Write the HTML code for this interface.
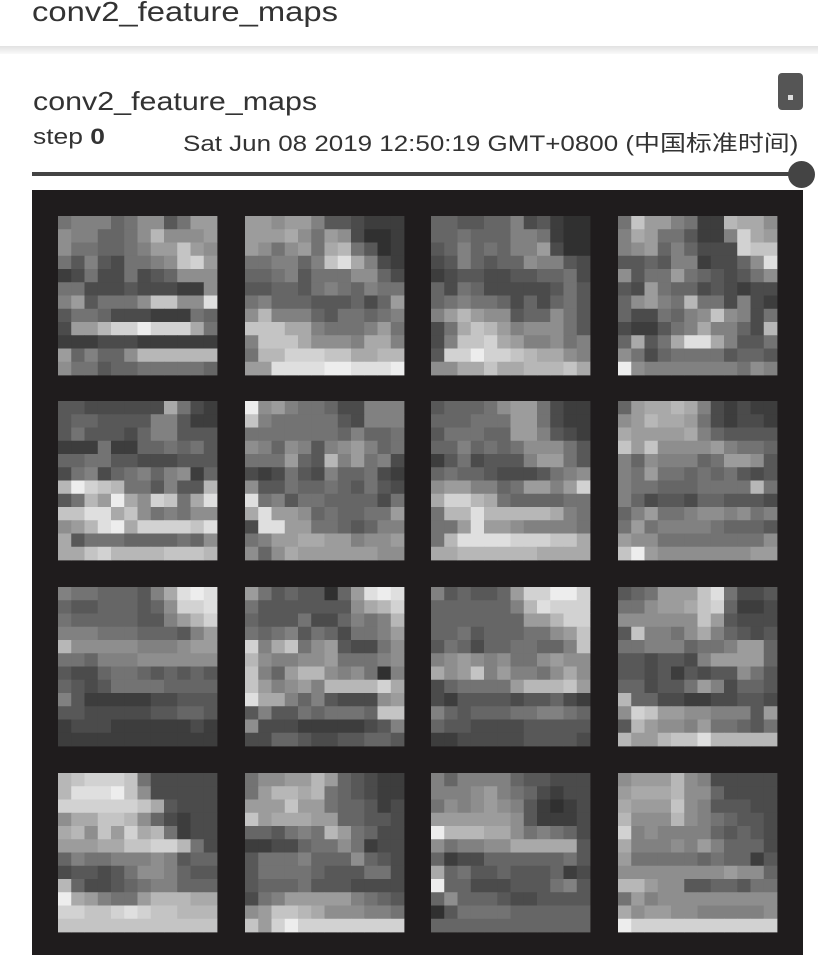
<!DOCTYPE html>
<html><head><meta charset="utf-8">
<style>
body{margin:0;width:818px;height:955px;overflow:hidden;background:#fff;font-family:"Liberation Sans","Noto Sans CJK SC",sans-serif;position:relative}
.abs{position:absolute;white-space:nowrap}
.sx{transform-origin:0 0}
</style></head><body>
<div class="abs sx" style="left:32px;top:-4px;font-size:28px;color:#333;transform:scaleX(1.17)">conv2_feature_maps</div>
<div class="abs" style="left:0;top:46px;width:818px;height:8px;background:linear-gradient(#e2e2e2,#fafafa)"></div>
<div class="abs sx" style="left:33px;top:86px;font-size:26px;color:#333;transform:scaleX(1.17)">conv2_feature_maps</div>
<div class="abs" style="left:778px;top:73px;width:25px;height:37px;border-radius:4px;background:#555"><div style="position:absolute;left:10px;top:22px;width:5px;height:5px;background:#ddd"></div></div>
<div class="abs sx" style="left:33px;top:124px;font-size:22px;color:#333;transform:scaleX(1.2)">step <b>0</b></div>
<div class="abs sx" style="left:183px;top:126px;font-size:22px;color:#333;transform:scaleX(1.18)">Sat Jun 08 2019 12:50:19 GMT+0800 (中国标准时间)</div>
<div class="abs" style="left:32px;top:172px;width:770px;height:4px;background:#444"></div>
<div class="abs" style="left:788px;top:161px;width:27px;height:27px;border-radius:50%;background:#444"></div>
<svg class="abs" id="fm" style="left:32px;top:190px" width="771" height="765"><rect width="771" height="765" fill="#1f1c1d"/></svg>
<script>
const tiles=[
["677756884699","8775568b8889","866556799c98","647436678cd9","236336345888","663334333228","7946668cc88e","466533322265","399bddfddda6","222333222222","957558bbbbbb","866455666665"],
["998997443222","999a86983112","986896ab6412","667757cea732","556746668853","445546765766","675554445359","8b7775466567","cccaa7666796","7ccca8887aa7","6bbdddccaabb","99eeeeffeeef"],
["554455734211","556555776211","457565779311","347545587743","234433445563","536533333464","567665353564","79b988455864","36acb9788864","37ccda977867","4ddfddcbaa87","88aacaabbbca"],
["6c997622baa8","7a9664227da9","789575333dcc","44547723358e","846696543468","439655343233","58976b663732","5336578c8736","322467a7753b","5a46aeea7446","863566664554","f87777777687"],
["44333333a632","455444477422","464443577444","222622556564","556644333444","367356757825","bfdcb664744b","46b9fa8dc6ae","cceeac867688","89befaddddce","a46665555658","aacdbbbbcccb"],
["f89766533777","c76666643777","666666657556","875874789756","666954b79673","323643755632","844655654643","e67466555536","ae9985655669","3ee996654577","6799aa997889","858a99999988"],
["455568996322","555666996322","466655997432","557565688864","246344479964","565543334678","89977569979d","addba6555566","6bbebbbbba76","669e99877776","6beeeedddcca","aabbbbbbaaaa"],
["59aaba732322","89baa9632332","a9999a754444","c9c888897665","758777569984","769665656434","7665556666b6","753443554443","579667887867","696777765554","988666666668","cf9888888899"],
["76655547aefe","544555458dde","6555554479bd","777666555479","b88888777899","665777888888","433566545454","543466665555","742222233444","443333344554","233322222232","222222222222"],
["964544159efe","644444448abd","54446335767b","656746536679","d7ac68943368","b87788966678","c759bb878617","c97897bbbbda","eaa757433389","4744656665cc","833322222347","335543344554"],
["7454459ddffd","5555557beddd","555555599bdd","55645556689c","46535566557c","789878668988","a89c797768a8","3566669bbbc9","324444344532","754555667765","544333344444","223333344443"],
["456999ce6334","66899acd5223","888888c94333","4c7768a75434","667775667995","443443799995","443424344864","553446973554","b55332233443","8dc998877749","4b9887966546","b99bccebbbbb"],
["bcdddc633333","beeefc833333","ddddddca4333","8aaccb853233","ab8c9dab6233","999aaccddb63","576677787455","344346887544","b53345677555","fa97669bbbaa","ddccdedccbbb","cccccccccccc"],
["68899b954322","69bbab654322","999c99655423","c9aaa9955443","554676b96533","223356686233","466675558543","466665444663","455564443333","367999997654","89ccba888776","c9dfdddddddd"],
["757777544333","777897653233","687898742123","999999842223","fbbbaa867653","867788aaaaa4","523355555564","a56445444523","f55333444674","585554334444","146666555555","555555555555"],
["8999b8733333","9aaab8853333","a999c8744433","b888b8765443","d78777754543","a77787975553","966666565524","888888889885","bb9884455466","697888888888","a89988777778","fddddddddddd"]
];
const tileX=[26,213,399,586], tileY=[26,211,397,583], TS=159;
const svg=document.getElementById('fm');
const NS='http://www.w3.org/2000/svg';
tiles.forEach((rows,t)=>{
  const g=document.createElementNS(NS,'g');
  
  
  const ox=tileX[t%4], oy=tileY[Math.floor(t/4)];
  const c=TS/12;
  rows.forEach((row,r)=>{
    for(let k=0;k<12;k++){
      const v=parseInt(row[k]||'8',16);
      const gv=Math.round(34+v*13.5);
      const rc=document.createElementNS(NS,'rect');
      rc.setAttribute('x',(ox+k*c).toFixed(2));
      rc.setAttribute('y',(oy+r*c).toFixed(2));
      rc.setAttribute('width',(c+0.4).toFixed(2));
      rc.setAttribute('height',(c+0.4).toFixed(2));
      rc.setAttribute('fill','rgb('+gv+','+gv+','+gv+')');
      g.appendChild(rc);
    }
  });
  svg.appendChild(g);
});
</script>
</body></html>
